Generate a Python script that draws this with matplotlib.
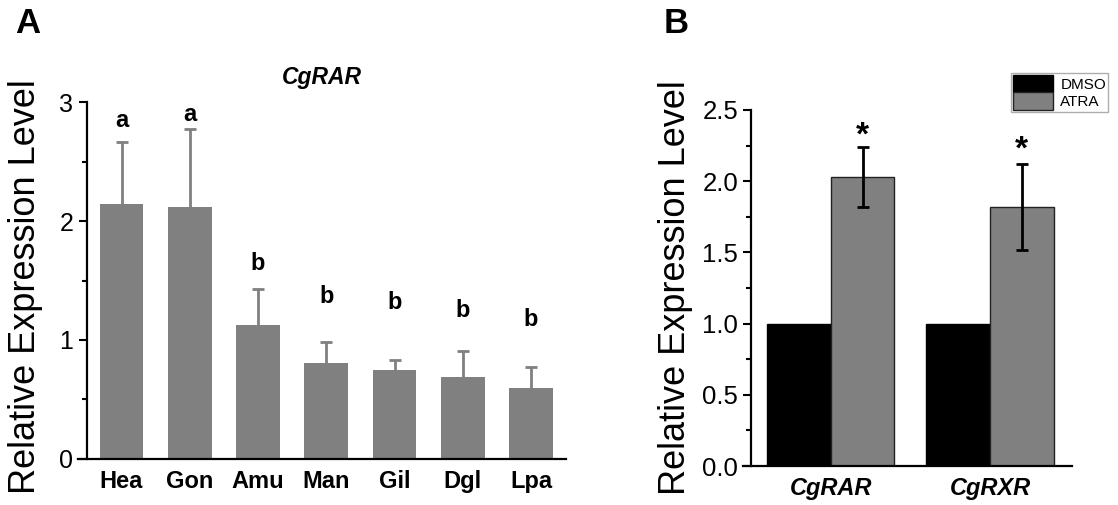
import numpy as np
import matplotlib
matplotlib.use('Agg')
import matplotlib.pyplot as plt
from matplotlib.ticker import MultipleLocator

plt.rcParams['font.family'] = ['Liberation Sans', 'DejaVu Sans']

# panel A: CgRAR expression across tissues
tissues = ['Hea', 'Gon', 'Amu', 'Man', 'Gil', 'Dgl', 'Lpa']
rar_mean = [2.14, 2.12, 1.13, 0.81, 0.75, 0.69, 0.60]
rar_err = [0.52, 0.65, 0.30, 0.17, 0.08, 0.22, 0.17]
groups = ['a', 'a', 'b', 'b', 'b', 'b', 'b']
group_y = [2.79, 2.84, 1.59, 1.31, 1.26, 1.19, 1.12]  # baseline of the letters

# panel B: DMSO vs ATRA
genes = ['CgRAR', 'CgRXR']
dmso_mean = [1.0, 1.0]
atra_mean = [2.03, 1.82]
atra_err = [0.21, 0.30]
star_y = [2.26, 2.16]

fig = plt.figure(figsize=(11.18, 5.05), dpi=100)

# ---- A ----
axA = fig.add_axes([0.0698, 0.0911, 0.4365, 0.7069])
x = np.arange(len(tissues))
# symmetric bars drawn behind the columns, so only the upper half shows
axA.errorbar(x, rar_mean, yerr=rar_err, fmt='none',
             ecolor='#808080', elinewidth=2, capsize=4, capthick=2, zorder=1)
axA.bar(x, rar_mean, width=0.64, color='#808080', zorder=2)
for i in range(len(x)):
    axA.text(x[i], group_y[i], groups[i], ha='center', va='baseline',
             fontsize=17, fontweight='bold')
axA.set_xlim(-0.637, 6.513)
axA.set_ylim(0, 3)
axA.spines['left'].set_position(('data', -0.505))
axA.spines['top'].set_visible(False)
axA.spines['right'].set_visible(False)
for s in ['left', 'bottom']:
    axA.spines[s].set_linewidth(1.6)
    axA.spines[s].set_zorder(3)
axA.set_xticks(x)
axA.set_xticklabels(tissues, fontsize=17, fontweight='bold')
axA.tick_params(axis='x', length=0, pad=8)
axA.set_yticks([0, 1, 2, 3])
axA.yaxis.set_minor_locator(MultipleLocator(0.5))
axA.tick_params(axis='y', which='major', length=6, width=1.5, labelsize=18, pad=4)
axA.tick_params(axis='y', which='minor', length=3.5, width=1.5)
axA.set_title('CgRAR', fontsize=16.5, fontweight='bold', fontstyle='italic', pad=13)

fig.text(26 / 1118, 1 - 287 / 505, 'Relative Expression Level', rotation=90,
         ha='center', va='center', fontsize=26)
fig.text(15 / 1118, 1 - 33 / 505, 'A', fontsize=25, fontweight='bold', va='baseline')

# ---- B ----
axB = fig.add_axes([0.6646, 0.0772, 0.2943, 0.705])
xb = np.arange(len(genes))
w = 0.4
axB.bar(xb - w / 2, dmso_mean, width=w, color='black', edgecolor='black',
        linewidth=1, label='DMSO', zorder=2)
axB.bar(xb + w / 2, atra_mean, width=w, color='#808080', edgecolor='#222222',
        linewidth=1, label='ATRA', zorder=2)
axB.errorbar(xb + w / 2, atra_mean, yerr=atra_err, fmt='none', ecolor='black',
             elinewidth=2, capsize=4, capthick=2, zorder=3)
for i in range(len(xb)):
    axB.text(xb[i] + w / 2, star_y[i], '*', ha='center', va='baseline',
             fontsize=24, fontweight='bold')
axB.set_xlim(-0.5505, 1.515)
axB.set_ylim(0, 2.5)
axB.spines['left'].set_position(('data', -0.502))
axB.spines['top'].set_visible(False)
axB.spines['right'].set_visible(False)
for s in ['left', 'bottom']:
    axB.spines[s].set_linewidth(1.6)
axB.set_xticks(xb)
axB.set_xticklabels(genes, fontsize=17, fontweight='bold', fontstyle='italic')
axB.tick_params(axis='x', length=0, pad=8)
axB.set_yticks(np.arange(0, 2.51, 0.5))
axB.set_yticklabels([f'{v:.1f}' for v in np.arange(0, 2.51, 0.5)])
axB.yaxis.set_minor_locator(MultipleLocator(0.25))
axB.tick_params(axis='y', which='major', length=6, width=1.5, labelsize=18.5, pad=3)
axB.tick_params(axis='y', which='minor', length=3.5, width=1.5)

leg = axB.legend(loc='upper right', bbox_to_anchor=(1108 / 1118, 1 - 73 / 505),
                 bbox_transform=fig.transFigure, fontsize=11, frameon=True,
                 fancybox=False, handlelength=2.6, handleheight=1.4,
                 labelspacing=0.0, borderpad=0.12, handletextpad=0.5,
                 borderaxespad=0)
leg.get_frame().set_edgecolor('#999999')
leg.get_frame().set_linewidth(1)

fig.text(675.5 / 1118, 1 - 288 / 505, 'Relative Expression Level', rotation=90,
         ha='center', va='center', fontsize=26)
fig.text(664 / 1118, 1 - 33 / 505, 'B', fontsize=25, fontweight='bold', va='baseline')

plt.savefig('out.png', dpi=100)
